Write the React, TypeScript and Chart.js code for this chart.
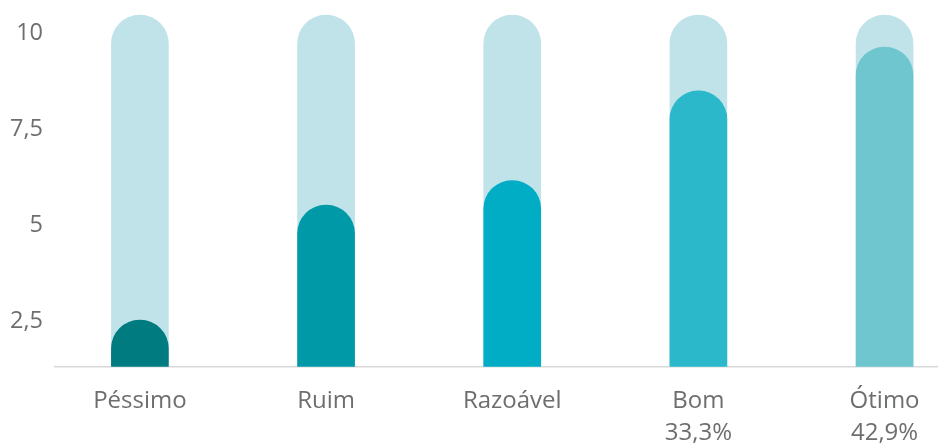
import React, { useEffect, useRef } from "react";
import { Chart, registerables } from "chart.js";

Chart.register(...registerables);

const CATEGORIES = ["Péssimo", "Ruim", "Razoável", "Bom", "Ótimo"];
const SUBLABELS = ["", "", "", "33,3%", "42,9%"];
const VALUES = [2.54, 5.53, 6.17, 8.5, 9.64];
const TRACK = [10.47, 10.47, 10.47, 10.47, 10.47];
const Y_TICKS = [2.5, 5, 7.5, 10];
const BAR_COLORS = ["#007b7f", "#0099a8", "#00adc5", "#2bb8cb", "#70c6cf"];
const TRACK_COLOR = "#c0e3e9";
const TEXT_COLOR = "#6d6e70";
const FONT = "'Open Sans', sans-serif";

export default function App() {
  const ref = useRef<HTMLCanvasElement | null>(null);

  useEffect(() => {
    if (!ref.current) return;
    const radius = { topLeft: 30, topRight: 30, bottomLeft: 0, bottomRight: 0 };
    const chart = new Chart(ref.current, {
      type: "bar",
      data: {
        datasets: [
          {
            data: VALUES.map((v, i) => ({ x: i, y: v })),
            backgroundColor: BAR_COLORS,
            borderRadius: radius,
            borderSkipped: "start",
            barThickness: 57,
            grouped: false,
            order: 0,
          },
          {
            data: TRACK.map((v, i) => ({ x: i, y: v })),
            backgroundColor: TRACK_COLOR,
            borderRadius: radius,
            borderSkipped: "start",
            barThickness: 57,
            grouped: false,
            order: 1,
          },
        ],
      },
      options: {
        responsive: false,
        animation: false,
        layout: { padding: { top: 14, right: 0, left: 0, bottom: 0 } },
        plugins: { legend: { display: false }, tooltip: { enabled: false } },
        scales: {
          x: {
            type: "linear",
            offset: false,
            min: -0.456,
            max: 4.287,
            grid: { display: false, drawTicks: false },
            border: { display: true, color: "#d9d9d9", width: 1.5 },
            afterBuildTicks: (s: any) => {
              s.ticks = CATEGORIES.map((_, i) => ({ value: i }));
            },
            afterFit: (s: any) => {
              s.height = 447 - 366.7;
              s.paddingLeft = 0;
              s.paddingRight = 0;
            },
            ticks: {
              autoSkip: false,
              maxRotation: 0,
              padding: 19,
              color: TEXT_COLOR,
              font: { family: FONT, size: 24, lineHeight: 1.32 },
              callback: (v: any) => {
                const i = Math.round(Number(v));
                return SUBLABELS[i] ? [CATEGORIES[i], SUBLABELS[i]] : CATEGORIES[i];
              },
            },
          },
          y: {
            min: 1.33,
            max: 10.5,
            grid: { display: false, drawTicks: false },
            border: { display: false },
            afterBuildTicks: (s: any) => {
              s.ticks = Y_TICKS.map((v) => ({ value: v }));
            },
            afterFit: (s: any) => {
              s.width = 55;
              s.paddingTop = 0;
              s.paddingBottom = 0;
            },
            ticks: {
              padding: 12,
              color: TEXT_COLOR,
              font: { family: FONT, size: 23.5 },
              callback: (v: any) => String(v).replace(".", ","),
            },
          },
        },
      },
    });
    return () => chart.destroy();
  }, []);

  return (
    <div style={{ position: "fixed", left: 0, top: 0, width: 938, height: 447, background: "#fff" }}>
      <canvas ref={ref} width={938} height={447} style={{ display: "block" }} />
    </div>
  );
}
